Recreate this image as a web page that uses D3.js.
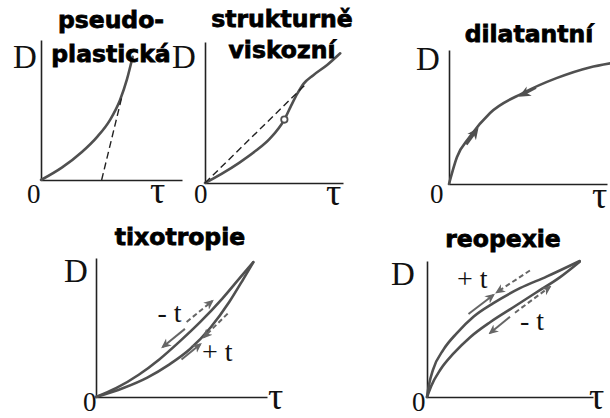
<!DOCTYPE html>
<html><head><meta charset="utf-8">
<script src="https://cdn.jsdelivr.net/npm/d3@7"></script>
<style>body{margin:0;background:#fff}svg{display:block}</style>
</head><body>
<svg id="c" width="610" height="418"></svg>
<script>
// ---- data (normalised τ, D units: 0..1 along each axis) ----
const titles = [["pseudo-","plastická"],["strukturně","viskozní"],["dilatantní"],["tixotropie"],["reopexie"]];
const pseudoCurve = [[0,0],[0.15,0.09],[0.29,0.20],[0.40,0.31],[0.49,0.43],[0.56,0.57],[0.61,0.72],[0.65,0.88]];
const pseudoTangent = [[0.43,0],[0.575,0.60]];
const strukCurve = [[0,0],[0.12,0.065],[0.25,0.145],[0.37,0.23],[0.47,0.315],[0.575,0.45],[0.62,0.54],[0.67,0.635],[0.715,0.705],[0.785,0.765],[0.885,0.837],[0.98,0.92]];
const strukSecant = [[0,0],[0.74,0.71]];
const strukPoint = [0.575,0.45];
const dilatCurve = [[0,0],[0.05,0.20],[0.13,0.35],[0.26,0.53],[0.47,0.68],[0.68,0.79],[0.89,0.87],[1.02,0.90]];
const dilatArrows = [[[0.11,0.295],[0.165,0.385]],[[0.55,0.72],[0.475,0.672]]];
const tixoUp = [[0,0],[0.12,0.065],[0.25,0.16],[0.37,0.27],[0.49,0.40],[0.61,0.54],[0.74,0.71],[0.84,0.855],[0.92,0.97]];
const tixoDown = [[0,0],[0.16,0.065],[0.30,0.14],[0.43,0.235],[0.55,0.345],[0.67,0.50],[0.78,0.685],[0.86,0.845],[0.92,0.97]];
const tixoArrows = [
  {p:[[0.53,0.54],[0.68,0.69]],dash:true},
  {p:[[0.52,0.49],[0.39,0.36]],dash:false},
  {p:[[0.77,0.60],[0.63,0.43]],dash:true},
  {p:[[0.50,0.27],[0.61,0.38]],dash:false}];
const tixoLabels = [["- t",0.36,0.54],["+ t",0.62,0.26]];
const reoUp = [[0,0],[0.012,0.09],[0.036,0.20],[0.10,0.35],[0.18,0.47],[0.28,0.59],[0.40,0.69],[0.56,0.80],[0.72,0.885],[0.92,1.0]];
const reoDown = [[0,0],[0.025,0.08],[0.08,0.20],[0.16,0.32],[0.26,0.44],[0.38,0.55],[0.52,0.66],[0.66,0.77],[0.80,0.88],[0.92,0.995]];
const reoArrows = [
  {p:[[0.62,0.93],[0.42,0.77]],dash:true},
  {p:[[0.25,0.61],[0.40,0.75]],dash:false},
  {p:[[0.53,0.62],[0.74,0.81]],dash:true},
  {p:[[0.50,0.59],[0.38,0.47]],dash:false}];
const reoLabels = [["+ t",0.18,0.80],["- t",0.56,0.49]];
const axisLabels = ["D","0","τ"];

// ---- layout ----
const svg = d3.select("#c");
const panels = [
  {ox:41, oy:180, w:141, h:140, titleX:111, titleY:[28,62], lab:{D:[13,68],O:[27,203],T:[150,203]}},
  {ox:205,oy:183, w:138, h:141, titleX:282, titleY:[27,58], lab:{D:[172,68],O:[194,203],T:[326,205]}},
  {ox:449,oy:184, w:158, h:134, titleX:529, titleY:[42], lab:{D:[416,70],O:[430,203],T:[592,208]}},
  {ox:96, oy:397, w:171, h:139, titleX:180, titleY:[245], lab:{D:[64,282],O:[83,411],T:[268,409]}},
  {ox:427,oy:397, w:166, h:136, titleX:503, titleY:[247], lab:{D:[391,285],O:[412,411],T:[589,409]}}
];

const defs = svg.append("defs");
defs.append("marker").attr("id","vhead").attr("viewBox","0 0 10 10").attr("refX",8).attr("refY",5)
  .attr("markerWidth",5).attr("markerHeight",5).attr("orient","auto").attr("markerUnits","strokeWidth")
  .append("path").attr("d","M0,0.5 L10,5 L0,9.5 L3,5 Z").attr("fill","#666");
defs.append("marker").attr("id","thead").attr("viewBox","0 0 10 10").attr("refX",5).attr("refY",5)
  .attr("markerWidth",4.5).attr("markerHeight",4.5).attr("orient","auto").attr("markerUnits","strokeWidth")
  .append("path").attr("d","M0,0.5 L10,5 L0,9.5 L3,5 Z").attr("fill","#505050");

const curveColor = "#505050";

panels.forEach((P,i) => {
  P.x = d3.scaleLinear().domain([0,1]).range([P.ox, P.ox+P.w]);
  P.y = d3.scaleLinear().domain([0,1]).range([P.oy, P.oy-P.h]);
  P.line = d3.line().x(d=>P.x(d[0])).y(d=>P.y(d[1])).curve(d3.curveMonotoneX);
  const g = svg.append("g");
  P.g = g;
  g.append("g").attr("transform",`translate(0,${P.oy})`)
    .call(d3.axisBottom(P.x).tickValues([]).tickSizeOuter(0))
    .select(".domain").attr("stroke","#222").attr("stroke-width",1.6);
  g.append("g").attr("transform",`translate(${P.ox},0)`)
    .call(d3.axisLeft(P.y).tickValues([]).tickSizeOuter(0))
    .select(".domain").attr("stroke","#222").attr("stroke-width",1.6);
  const serif = "'Liberation Serif','Times New Roman',serif";
  g.append("text").text(axisLabels[0]).attr("x",P.lab.D[0]).attr("y",P.lab.D[1])
    .attr("font-family",serif).attr("font-size",33).attr("fill","#111");
  g.append("text").text(axisLabels[1]).attr("x",P.lab.O[0]).attr("y",P.lab.O[1])
    .attr("font-family",serif).attr("font-size",27).attr("fill","#111");
  g.append("text").text(axisLabels[2]).attr("x",P.lab.T[0]).attr("y",P.lab.T[1])
    .attr("font-family",serif).attr("font-size",38).attr("fill","#111");
  titles[i].forEach((t,k) => {
    svg.append("text").text(t).attr("x",P.titleX).attr("y",P.titleY[k]).attr("text-anchor","middle")
      .attr("font-family","'DejaVu Sans',sans-serif").attr("font-weight","bold").attr("font-size",23.5)
      .attr("fill","#000").attr("stroke","#000").attr("stroke-width",0.8);
  });
});

function drawCurve(P, data){
  P.g.append("path").datum(data).attr("d",P.line).attr("fill","none")
    .attr("stroke",curveColor).attr("stroke-width",2.6).attr("stroke-linecap","round");
}
function drawDashed(P, data){
  P.g.append("path").datum(data).attr("d",d3.line().x(d=>P.x(d[0])).y(d=>P.y(d[1])))
    .attr("fill","none").attr("stroke","#222").attr("stroke-width",1.4).attr("stroke-dasharray","7,4");
}
function drawArrows(P, arr){
  arr.forEach(a => {
    P.g.append("path").datum(a.p).attr("d",d3.line().x(d=>P.x(d[0])).y(d=>P.y(d[1])))
      .attr("fill","none").attr("stroke","#666").attr("stroke-width",2)
      .attr("stroke-dasharray", a.dash ? "5,3" : null).attr("marker-end","url(#vhead)");
  });
}
function drawLabels(P, labs){
  labs.forEach(l => {
    P.g.append("text").text(l[0]).attr("x",P.x(l[1])).attr("y",P.y(l[2]))
      .attr("font-family","'Liberation Serif',serif").attr("font-size",28).attr("fill","#111")
      .attr("xml:space","preserve");
  });
}

drawCurve(panels[0], pseudoCurve);
drawDashed(panels[0], pseudoTangent);
drawCurve(panels[1], strukCurve);
drawDashed(panels[1], strukSecant);
panels[1].g.append("circle").attr("cx",panels[1].x(strukPoint[0])).attr("cy",panels[1].y(strukPoint[1]))
  .attr("r",3.2).attr("fill","#fff").attr("stroke",curveColor).attr("stroke-width",1.8);
drawCurve(panels[2], dilatCurve);
dilatArrows.forEach(a => {
  panels[2].g.append("path").datum(a).attr("d",d3.line().x(d=>panels[2].x(d[0])).y(d=>panels[2].y(d[1])))
    .attr("fill","none").attr("stroke",curveColor).attr("stroke-width",2.6).attr("marker-end","url(#thead)");
});
drawCurve(panels[3], tixoUp);
drawCurve(panels[3], tixoDown);
drawArrows(panels[3], tixoArrows);
drawLabels(panels[3], tixoLabels);
drawCurve(panels[4], reoUp);
drawCurve(panels[4], reoDown);
drawArrows(panels[4], reoArrows);
drawLabels(panels[4], reoLabels);
</script>
</body></html>
